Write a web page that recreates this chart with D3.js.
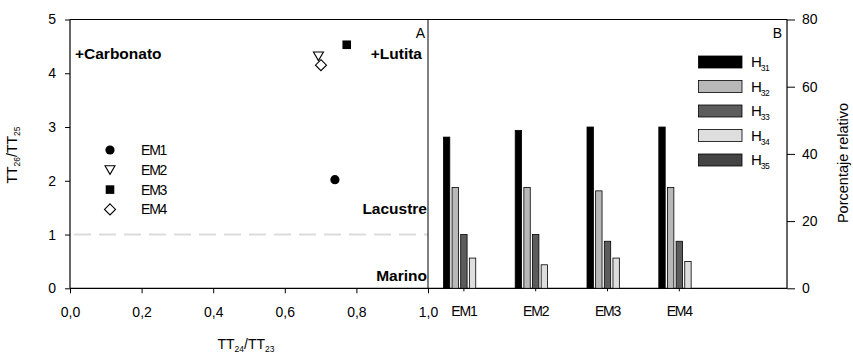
<!DOCTYPE html>
<html><head><meta charset="utf-8">
<script src="https://cdn.jsdelivr.net/npm/d3@7"></script>
<style>body{margin:0;background:#fff}text{font-family:"Liberation Sans",Arial,sans-serif;fill:#000}</style>
</head><body>
<svg id="c" width="853" height="356"></svg>
<script>
// Panel A data
const scatterNames = ["EM1","EM2","EM3","EM4"];
const scatterX = [0.74, 0.694, 0.773, 0.701];
const scatterY = [2.02, 4.32, 4.53, 4.15];
const scatterShapes = ["circle","triangleDown","square","diamond"];
const xTicksA = [0,0.2,0.4,0.6,0.8,1.0];
const yTicksA = [0,1,2,3,4,5];
// Panel B data
const categories = ["EM1","EM2","EM3","EM4"];
const series = ["H31","H32","H33","H34","H35"];
const seriesSub = ["31","32","33","34","35"];
const seriesColors = ["#000000","#b8b8b8","#5c5c5c","#dedede","#444444"];
const H31 = [45, 47, 48, 48];
const H32 = [30, 30, 29, 30];
const H33 = [16, 16, 14, 14];
const H34 = [9, 7, 9, 8];
const H35 = [0, 0, 0, 0];
const yTicksB = [0,20,40,60,80];

const svg = d3.select("#c");
const L = 70, M = 428, R = 787, T = 19.5, B = 288.3;
const FS = 14;

// Scales A
const xA = d3.scaleLinear().domain([0,1]).range([L, M]);
const yA = d3.scaleLinear().domain([0,5]).range([B, T]);
// Scales B
const xB = d3.scaleBand().domain(categories).range([M, M + 4*71.8]);
const xB1 = d3.scaleBand().domain(series).range([-20.5, 20.5]).paddingInner(0.26);
const yB = d3.scaleLinear().domain([0,80]).range([B, T]);

// dashed line at 1
svg.append("line").attr("x1", xA(0)+4).attr("x2", xA(1)).attr("y1", yA(1)).attr("y2", yA(1))
  .attr("stroke","#dcdcdc").attr("stroke-width",2).attr("stroke-dasharray","17,8");

// frame lines
svg.append("line").attr("x1",L).attr("x2",R).attr("y1",T).attr("y2",T).attr("stroke","#000").attr("stroke-width",1);
svg.append("line").attr("x1",M).attr("x2",M).attr("y1",T).attr("y2",B).attr("stroke","#000").attr("stroke-width",1);

// Axes A
const axLeft = svg.append("g").attr("transform",`translate(${L},0)`)
  .call(d3.axisLeft(yA).tickValues(yTicksA).tickSize(5).tickPadding(9).tickFormat(d3.format("d")));
const axBottomA = svg.append("g").attr("transform",`translate(0,${B})`)
  .call(d3.axisBottom(xA).tickValues(xTicksA).tickSize(5).tickPadding(14).tickFormat(d => d3.format(".1f")(d).replace(".",",")));
// Axes B
const axBottomB = svg.append("g").attr("transform",`translate(0,${B})`)
  .call(d3.axisBottom(xB).tickSize(3).tickPadding(15));
const axRight = svg.append("g").attr("transform",`translate(${R},0)`)
  .call(d3.axisRight(yB).tickValues(yTicksB).tickSize(8).tickPadding(7));
[axLeft, axBottomA, axBottomB, axRight].forEach(g => {
  g.selectAll(".domain").attr("stroke","#000").attr("stroke-width",1.2);
  g.selectAll(".tick line").attr("stroke","#000");
  g.selectAll("text").attr("font-size",FS).attr("font-family","Liberation Sans, Arial, sans-serif").attr("fill","#000");
});
axLeft.select(".domain").attr("d", `M0,${B}V${T}`);
axBottomA.select(".domain").attr("d", `M${L},0H${M}`);
axBottomB.select(".domain").attr("d", `M${M},0H${R}`);
axRight.select(".domain").attr("d", `M0,${B}V${T}`);
axBottomB.selectAll("text").attr("letter-spacing",-1.2);

// symbols
function drawSymbol(g, shape, x, y) {
  if (shape === "circle") g.append("circle").attr("cx",x).attr("cy",y).attr("r",4.6).attr("fill","#000");
  else if (shape === "square") g.append("rect").attr("x",x-4.3).attr("y",y-4.3).attr("width",8.6).attr("height",8.6).attr("fill","#000");
  else if (shape === "triangleDown") g.append("path").attr("d",`M${x-5},${y-4}L${x+5},${y-4}L${x},${y+4.5}Z`).attr("fill","#fff").attr("stroke","#000").attr("stroke-width",1.1);
  else if (shape === "diamond") g.append("path").attr("d",`M${x},${y-5.5}L${x+5.5},${y}L${x},${y+5.5}L${x-5.5},${y}Z`).attr("fill","#fff").attr("stroke","#000").attr("stroke-width",1.1);
}
const pts = svg.append("g");
[3,1,2,0].forEach(i => drawSymbol(pts, scatterShapes[i], xA(scatterX[i]), yA(scatterY[i])));

// legend A
const legA = svg.append("g");
scatterNames.forEach((n,i) => {
  const y = 150 + i*19.8;
  drawSymbol(legA, scatterShapes[i], 110, y);
  legA.append("text").attr("x",141).attr("y",y+5).attr("font-size",FS).attr("letter-spacing",-1.2).text(n);
});

// labels A
const lab = (x,y,t,anchor,bold,fs) => svg.append("text").attr("x",x).attr("y",y).attr("font-size",fs)
  .attr("text-anchor",anchor).attr("font-weight",bold?"bold":"normal").text(t);
lab(75,59,"+Carbonato","start",true,15.5);
lab(422,59,"+Lutita","end",true,15.5);
lab(425,38,"A","end",false,FS);
lab(427,214,"Lacustre","end",true,15.5);
lab(427,281,"Marino","end",true,15.5);
lab(782,38,"B","end",false,FS);

// bars
const vals = [H31,H32,H33,H34,H35];
const bars = svg.append("g");
categories.forEach((c,ci) => {
  const cx = xB(c) + xB.bandwidth()/2;
  series.forEach((s,si) => {
    const v = vals[si][ci];
    if (v <= 0) return;
    bars.append("rect").attr("x", cx + xB1(s)).attr("width", xB1.bandwidth())
      .attr("y", yB(v)).attr("height", yB(0)-yB(v))
      .attr("fill", seriesColors[si]).attr("stroke","#000").attr("stroke-width",0.8);
  });
});

// legend B
const legB = svg.append("g");
series.forEach((s,i) => {
  const y = 62 + i*24.5;
  legB.append("rect").attr("x",698.5).attr("y",y-6).attr("width",43.5).attr("height",12)
    .attr("fill",seriesColors[i]).attr("stroke","#000").attr("stroke-width",0.8);
  const t = legB.append("text").attr("x",751).attr("y",y+5).attr("font-size",15);
  t.append("tspan").text("H");
  t.append("tspan").attr("font-size",8.5).attr("dy",4).attr("dx",-1).attr("letter-spacing",-0.5).text(seriesSub[i]);
});

// axis titles
const tA = svg.append("text").attr("x",246).attr("y",349).attr("text-anchor","middle").attr("font-size",FS);
tA.append("tspan").text("TT");
tA.append("tspan").attr("font-size",8.5).attr("dy",3).text("24");
tA.append("tspan").attr("dy",-3).text("/TT");
tA.append("tspan").attr("font-size",8.5).attr("dy",3).text("23");

const tY = svg.append("text").attr("transform","translate(17,155) rotate(-90)").attr("text-anchor","middle").attr("font-size",FS);
tY.append("tspan").text("TT");
tY.append("tspan").attr("font-size",8.5).attr("dy",3).text("26");
tY.append("tspan").attr("dy",-3).text("/TT");
tY.append("tspan").attr("font-size",8.5).attr("dy",3).text("25");

svg.append("text").attr("transform","translate(848,163) rotate(-90)").attr("text-anchor","middle")
  .attr("font-size",14.5).text("Porcentaje relativo");
</script>
</body></html>
